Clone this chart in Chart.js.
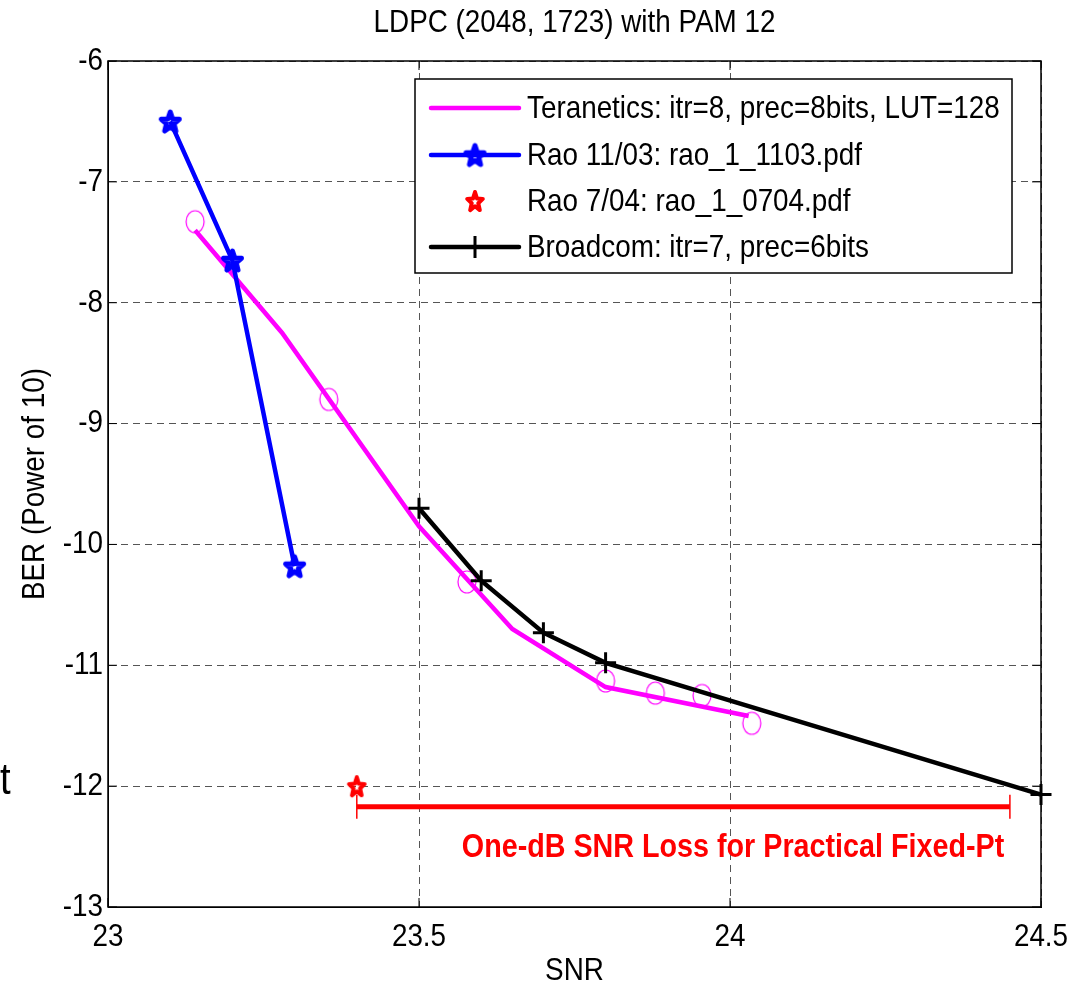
<!DOCTYPE html>
<html lang="en">
<head>
  <meta charset="UTF-8">
  <title>LDPC (2048, 1723) with PAM 12</title>
  <script src="https://cdn.jsdelivr.net/npm/chart.js"></script>
  <style>
    html, body { margin: 0; padding: 0; background: #fff; }
    #wrap { width: 1085px; height: 990px; position: relative; }
  </style>
</head>
<body>
  <div id="wrap"><canvas id="ber_chart" width="1085" height="990"></canvas></div>

  <script>
    // Values (SNR in dB, BER as power of 10)
    const xTicks = [23, 23.5, 24, 24.5];
    const yTicks = [-6, -7, -8, -9, -10, -11, -12, -13];

    const teraX = [23.14, 23.28, 23.5, 23.65, 23.8, 24.03];
    const teraY = [-7.4, -8.25, -9.85, -10.7, -11.18, -11.42];
    const teraMarkX = [23.14, 23.355, 23.577, 23.8, 23.88, 23.955, 24.035];
    const teraMarkY = [-7.33, -8.8, -10.31, -11.13, -11.23, -11.25, -11.48];

    const raoX = [23.1, 23.2, 23.3];
    const raoY = [-6.5, -7.65, -10.18];

    const rao2X = [23.4];
    const rao2Y = [-12.0];

    const broadX = [23.5, 23.6, 23.7, 23.8, 24.5];
    const broadY = [-9.7, -10.3, -10.73, -10.98, -12.07];

    const lossX = [23.4, 24.45];
    const lossY = [-12.17, -12.17];

    const legendLabels = [
      'Teranetics: itr=8, prec=8bits, LUT=128',
      'Rao 11/03: rao_1_1103.pdf',
      'Rao 7/04: rao_1_0704.pdf',
      'Broadcom: itr=7, prec=6bits'
    ];

    const FONT = '"Liberation Sans", Arial, Helvetica, sans-serif';
    const SX = 0.87; // text in the picture is squeezed sideways

    function pts(xs, ys) {
      return xs.map((x, i) => ({ x: x, y: ys[i] }));
    }

    // five-pointed star marker like MATLAB's 'p'
    function makeStar(color, rOut, lw, sx) {
      const size = Math.ceil(rOut * 2 + lw * 2 + 2);
      const c = document.createElement('canvas');
      c.width = size; c.height = size;
      const g = c.getContext('2d');
      const cx = size / 2, cy = size / 2 + 1, rIn = rOut * 0.42;
      g.beginPath();
      for (let i = 0; i < 10; i++) {
        const r = i % 2 === 0 ? rOut : rIn;
        const a = -Math.PI / 2 + i * Math.PI / 5;
        const px = cx + sx * r * Math.cos(a), py = cy + r * Math.sin(a);
        if (i === 0) g.moveTo(px, py); else g.lineTo(px, py);
      }
      g.closePath();
      g.strokeStyle = color;
      g.lineWidth = lw;
      g.lineJoin = 'round';
      g.stroke();
      return c;
    }

    function makeRing(color, rx, ry, lw) {
      const c = document.createElement('canvas');
      c.width = Math.ceil(rx * 2 + 4); c.height = Math.ceil(ry * 2 + 4);
      const g = c.getContext('2d');
      g.beginPath();
      g.ellipse(c.width / 2, c.height / 2, rx, ry, 0, 0, Math.PI * 2);
      g.strokeStyle = color;
      g.lineWidth = lw;
      g.stroke();
      return c;
    }

    const blueStar = makeStar('#0000ff', 10.5, 5, 0.9);
    const redStar = makeStar('#ff0000', 10, 4, 0.82);
    const ring = makeRing('#ff00ff', 9, 11, 1.2);

    function text(ctx, s, x, y, align, font, color, rot) {
      ctx.save();
      ctx.translate(x, y);
      if (rot) ctx.rotate(rot);
      ctx.scale(SX, 1);
      ctx.font = font;
      ctx.fillStyle = color || '#000';
      ctx.textAlign = align;
      ctx.textBaseline = 'middle';
      ctx.fillText(s, 0, 0);
      ctx.restore();
    }

    // frame, inward ticks, tick labels, title, legend, annotation
    const decorPlugin = {
      id: 'decor',
      afterDraw(chart) {
        const ctx = chart.ctx;
        const a = chart.chartArea;
        const xs = chart.scales.x, ys = chart.scales.y;
        const f = '32px ' + FONT;
        ctx.save();

        ctx.strokeStyle = '#000';
        ctx.lineWidth = 1.5;
        ctx.strokeRect(a.left, a.top, a.right - a.left, a.bottom - a.top);

        ctx.lineWidth = 1;
        ctx.beginPath();
        xTicks.forEach(v => {
          const px = xs.getPixelForValue(v);
          ctx.moveTo(px, a.bottom); ctx.lineTo(px, a.bottom - 9);
          ctx.moveTo(px, a.top); ctx.lineTo(px, a.top + 9);
        });
        yTicks.forEach(v => {
          const py = ys.getPixelForValue(v);
          ctx.moveTo(a.left, py); ctx.lineTo(a.left + 9, py);
          ctx.moveTo(a.right, py); ctx.lineTo(a.right - 9, py);
        });
        ctx.stroke();

        xTicks.forEach(v => text(ctx, String(v), xs.getPixelForValue(v), 937, 'center', f));
        yTicks.forEach(v => text(ctx, String(v), 103, ys.getPixelForValue(v), 'right', f));

        text(ctx, 'LDPC (2048, 1723) with PAM 12', (a.left + a.right) / 2, 23, 'center', f);
        text(ctx, 'SNR', (a.left + a.right) / 2, 971, 'center', f);
        text(ctx, 'BER (Power of 10)', 35, (a.top + a.bottom) / 2, 'center', f, '#000', -Math.PI / 2);
        text(ctx, 't', 0, 782, 'left', '44px ' + FONT);

        text(ctx, 'One-dB SNR Loss for Practical Fixed-Pt', 733, 848, 'center', 'bold 33px ' + FONT, '#ff0000');

        // legend box
        const lx = 415, ly = 79, lw = 597, lh = 194;
        ctx.fillStyle = '#fff';
        ctx.fillRect(lx, ly, lw, lh);
        ctx.strokeStyle = '#000';
        ctx.lineWidth = 1.5;
        ctx.strokeRect(lx, ly, lw, lh);

        const rows = [108, 155, 201, 247];
        const s0 = 431, s1 = 519, sm = 475;
        ctx.lineCap = 'round';
        ctx.lineWidth = 4.5;

        ctx.strokeStyle = '#ff00ff';
        ctx.beginPath(); ctx.moveTo(s0, rows[0]); ctx.lineTo(s1, rows[0]); ctx.stroke();

        ctx.strokeStyle = '#0000ff';
        ctx.beginPath(); ctx.moveTo(s0, rows[1]); ctx.lineTo(s1, rows[1]); ctx.stroke();
        ctx.drawImage(blueStar, sm - blueStar.width / 2, rows[1] - blueStar.height / 2);

        ctx.drawImage(redStar, sm - redStar.width / 2, rows[2] - redStar.height / 2);

        ctx.strokeStyle = '#000';
        ctx.beginPath(); ctx.moveTo(s0, rows[3]); ctx.lineTo(s1, rows[3]); ctx.stroke();
        ctx.lineWidth = 3;
        ctx.lineCap = 'butt';
        ctx.beginPath();
        ctx.moveTo(sm - 10, rows[3]); ctx.lineTo(sm + 10, rows[3]);
        ctx.moveTo(sm, rows[3] - 11); ctx.lineTo(sm, rows[3] + 11);
        ctx.stroke();

        legendLabels.forEach((t, i) => text(ctx, t, 527, rows[i] + 1, 'left', f));

        ctx.restore();
      }
    };

    new Chart(document.getElementById('ber_chart'), {
      type: 'line',
      data: {
        datasets: [
          {
            label: legendLabels[3],
            data: pts(broadX, broadY),
            borderColor: '#000',
            borderWidth: 4.5,
            pointStyle: 'cross',
            pointRadius: 10.5,
            pointBorderWidth: 3,
            pointBorderColor: '#000',
            tension: 0,
            clip: false,
            order: 1
          },
          {
            label: legendLabels[1],
            data: pts(raoX, raoY),
            borderColor: '#0000ff',
            borderWidth: 4.5,
            pointStyle: blueStar,
            tension: 0,
            order: 2
          },
          {
            label: legendLabels[2],
            data: pts(rao2X, rao2Y),
            showLine: false,
            pointStyle: redStar,
            order: 3
          },
          {
            label: 'loss',
            data: pts(lossX, lossY),
            borderColor: '#ff0000',
            borderWidth: 5,
            pointStyle: 'line',
            rotation: 90,
            pointRadius: 12,
            pointBorderWidth: 1.5,
            pointBorderColor: '#ff0000',
            tension: 0,
            order: 4
          },
          {
            label: 'tera markers',
            data: pts(teraMarkX, teraMarkY),
            showLine: false,
            pointStyle: ring,
            order: 5
          },
          {
            label: legendLabels[0],
            data: pts(teraX, teraY),
            borderColor: '#ff00ff',
            borderWidth: 4.5,
            pointRadius: 0,
            tension: 0,
            order: 6
          }
        ]
      },
      options: {
        responsive: false,
        animation: false,
        events: [],
        layout: { padding: { top: 61, right: 44, left: 0, bottom: 0 } },
        plugins: {
          legend: { display: false },
          tooltip: { enabled: false }
        },
        scales: {
          x: {
            type: 'linear',
            min: 23,
            max: 24.5,
            afterFit(scale) { scale.height = 83; },
            afterBuildTicks(scale) { scale.ticks = xTicks.map(v => ({ value: v })); },
            ticks: { display: false },
            grid: { color: '#555', lineWidth: 1, drawTicks: false },
            border: { display: true, color: '#000', width: 1, dash: [7, 5] }
          },
          y: {
            type: 'linear',
            min: -13,
            max: -6,
            afterFit(scale) { scale.width = 108; },
            afterBuildTicks(scale) { scale.ticks = yTicks.map(v => ({ value: v })); },
            ticks: { display: false },
            grid: { color: '#555', lineWidth: 1, drawTicks: false },
            border: { display: true, color: '#000', width: 1, dash: [7, 5] }
          }
        }
      },
      plugins: [decorPlugin]
    });
  </script>
</body>
</html>
